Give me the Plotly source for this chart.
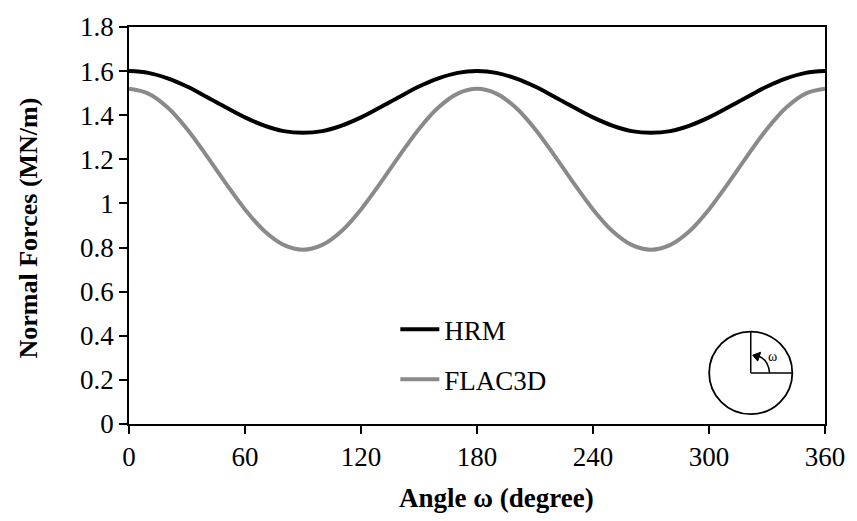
import plotly.graph_objects as go

# ---- data ----
angle = list(range(0, 361, 10))
hrm = [1.600, 1.592, 1.567, 1.530, 1.484, 1.436, 1.390, 1.353, 1.328, 1.320,
       1.328, 1.353, 1.390, 1.436, 1.484, 1.530, 1.567, 1.592, 1.600,
       1.592, 1.567, 1.530, 1.484, 1.436, 1.390, 1.353, 1.328, 1.320,
       1.328, 1.353, 1.390, 1.436, 1.484, 1.530, 1.567, 1.592, 1.600]
flac3d = [1.520, 1.498, 1.435, 1.338, 1.218, 1.092, 0.973, 0.875, 0.812, 0.790,
          0.812, 0.875, 0.973, 1.092, 1.218, 1.338, 1.435, 1.498, 1.520,
          1.498, 1.435, 1.338, 1.218, 1.092, 0.973, 0.875, 0.812, 0.790,
          0.812, 0.875, 0.973, 1.092, 1.218, 1.338, 1.435, 1.498, 1.520]
x_ticks = [0, 60, 120, 180, 240, 300, 360]
y_ticks = [0, 0.2, 0.4, 0.6, 0.8, 1, 1.2, 1.4, 1.6, 1.8]

W, H = 857, 521
ML, MT = 129, 20
MR = W - 832
MB = H - 424
PW, PH = W - ML - MR, H - MT - MB
FONT = "Liberation Serif"


def px(x, y):
    """screen pixel -> paper coords (decorative items only)"""
    return (x - ML) / PW, (H - MB - y) / PH


fig = go.Figure()
fig.add_trace(go.Scatter(x=angle, y=hrm, name="HRM", mode="lines",
                         line=dict(color="black", width=4, shape="spline"),
                         legendgroup="a"))
fig.add_trace(go.Scatter(x=angle, y=flac3d, name="FLAC3D", mode="lines",
                         line=dict(color="#8a8a8a", width=4, shape="spline"),
                         legendgroup="b"))

axis_common = dict(showgrid=False, zeroline=False, showline=True, linecolor="black",
                   linewidth=1.5, mirror=True, ticks="outside", ticklen=8,
                   tickwidth=1.5, tickcolor="black",
                   tickfont=dict(family=FONT, size=27, color="black"))

fig.update_xaxes(range=[0, 360], tickvals=x_ticks, **axis_common)
fig.update_yaxes(range=[0, 1.8], tickvals=y_ticks, **axis_common)

# inset circle
cx, cy, r = 757, 372, 42
x0, y0 = px(cx - r, cy + r)
x1, y1 = px(cx + r, cy - r)
shapes = [dict(type="circle", xref="paper", yref="paper", x0=x0, y0=y0, x1=x1, y1=y1,
               line=dict(color="black", width=1.8))]
a, b = px(cx, cy)
c, d = px(cx, cy - r)
shapes.append(dict(type="line", xref="paper", yref="paper", x0=a, y0=b, x1=c, y1=d,
                   line=dict(color="black", width=1.5)))
c, d = px(cx + r, cy)
shapes.append(dict(type="line", xref="paper", yref="paper", x0=a, y0=b, x1=c, y1=d,
                   line=dict(color="black", width=1.5)))
# arc (quadratic) from the horizontal line towards the vertical line
p0 = px(cx + 19, cy)
pc = px(cx + 18, cy - 13)
p1 = px(cx + 8, cy - 17)
shapes.append(dict(type="path", xref="paper", yref="paper",
                   path=f"M {p0[0]},{p0[1]} Q {pc[0]},{pc[1]} {p1[0]},{p1[1]}",
                   line=dict(color="black", width=1.5)))
t1 = px(cx + 2, cy - 18)
t2 = px(cx + 10, cy - 21)
t3 = px(cx + 7, cy - 12)
shapes.append(dict(type="path", xref="paper", yref="paper",
                   path=f"M {t1[0]},{t1[1]} L {t2[0]},{t2[1]} L {t3[0]},{t3[1]} Z",
                   fillcolor="black", line=dict(color="black", width=1)))

ox, oy = px(cx + 22, cy - 17)
ytx, yty = px(27, 225)
xtx, xty = px(500, 499)

fig.update_layout(
    width=W, height=H,
    margin=dict(l=ML, r=MR, t=MT, b=MB),
    plot_bgcolor="white", paper_bgcolor="white",
    font=dict(family=FONT, color="black"),
    shapes=shapes,
    showlegend=True,
    legend=dict(x=px(398, 0)[0], y=px(0, 303)[1], xanchor="left", yanchor="top",
                bgcolor="rgba(0,0,0,0)", font=dict(family=FONT, size=27, color="black"),
                traceorder="grouped", tracegroupgap=12, itemwidth=39),
    annotations=[
        dict(text="ω", x=ox, y=oy, xref="paper", yref="paper", showarrow=False,
             font=dict(family=FONT, size=14, color="black"), xanchor="center", yanchor="middle"),
        dict(text="<b>Normal Forces (MN/m)</b>", x=ytx, y=yty, xref="paper", yref="paper",
             showarrow=False, textangle=-90, font=dict(family=FONT, size=26, color="black"),
             xanchor="center", yanchor="middle"),
        dict(text="<b>Angle ω (degree)</b>", x=xtx, y=xty, xref="paper", yref="paper",
             showarrow=False, font=dict(family=FONT, size=27, color="black"),
             xanchor="center", yanchor="middle"),
    ],
)

# remove the default 8px page margin so the 857x521 figure fills the window exactly
fig.write_html("out.html", config={"displayModeBar": False},
               post_script="document.body.style.margin='0';")
